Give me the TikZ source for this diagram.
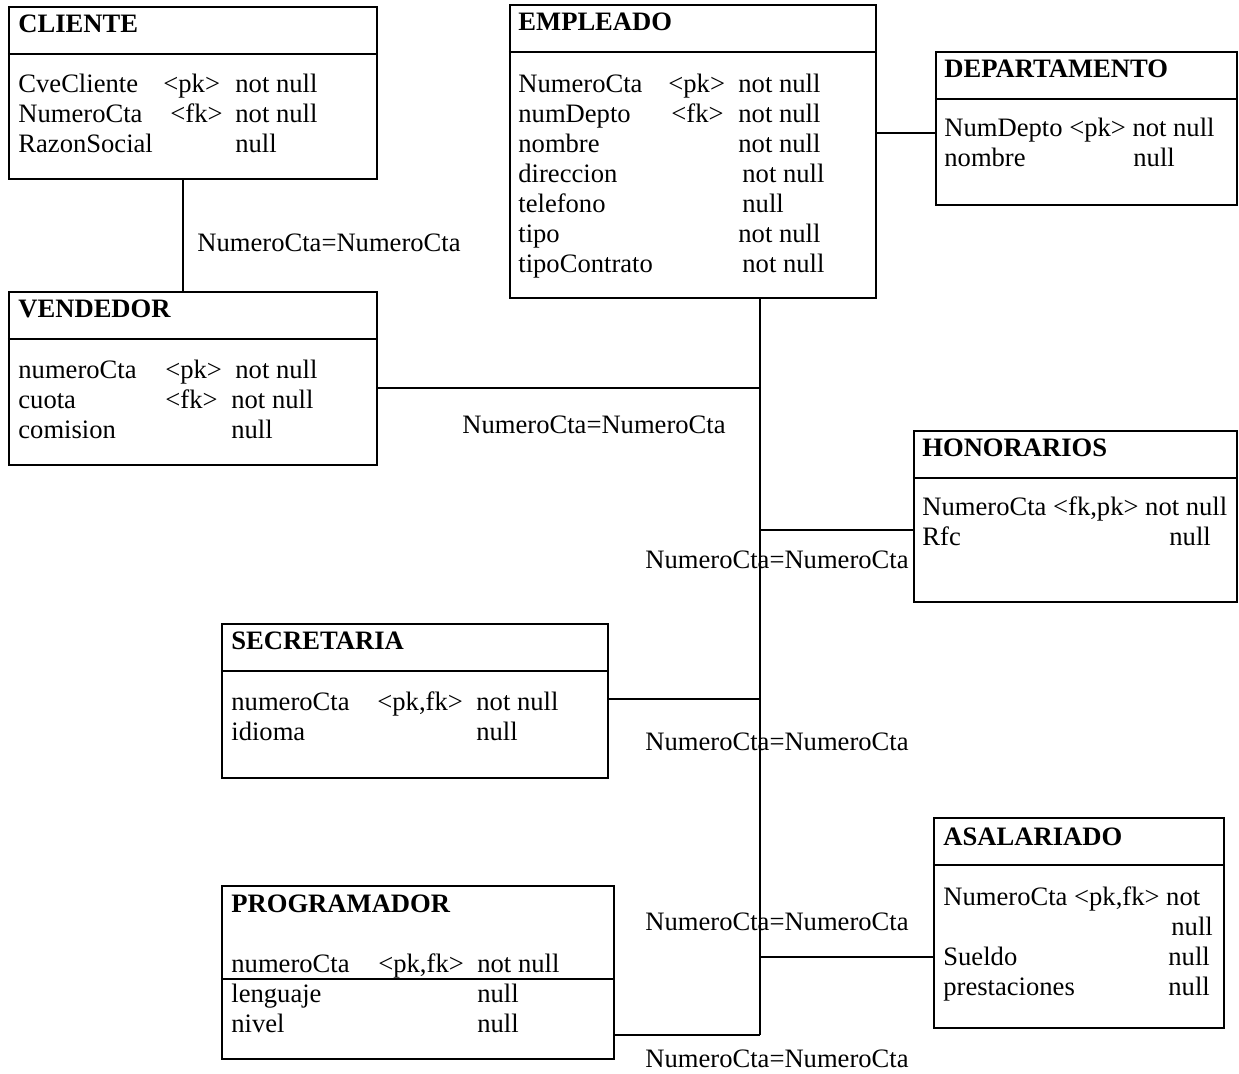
\documentclass[tikz,border=0pt]{standalone}
\usepackage{fontspec}
\setmainfont{Liberation Serif}
\usetikzlibrary{fit}
\setlength{\tabcolsep}{0pt}

\begin{document}
\begin{tikzpicture}[x=0.5pt, y=-0.5pt,
  every node/.style={font=\fontsize{13.3}{15}\selectfont},
  tbox/.style={draw, line width=1.1pt, inner sep=0pt},
  ttl/.style={anchor=base west, inner sep=0pt, font=\fontsize{13.3}{15}\selectfont\bfseries},
  attr/.style={anchor=base west, inner sep=0pt},
  lbl/.style={anchor=base west, inner sep=0pt},
  link/.style={line width=1pt}]
\useasboundingbox (0,0) rectangle (1239,1074);
\node[tbox, fit={(9,7) (377,179)}] (cli) {};
\node[tbox, fit={(510,5) (876,298)}] (emp) {};
\node[tbox, fit={(936,52) (1237,205)}] (dep) {};
\node[tbox, fit={(9,292) (377,465)}] (ven) {};
\node[tbox, fit={(914,431) (1237,602)}] (hon) {};
\node[tbox, fit={(222,624) (608,778)}] (sec) {};
\node[tbox, fit={(934,818) (1224,1028)}] (asa) {};
\node[tbox, fit={(222,886) (614,1059)}] (pro) {};
\foreach \t in {cli,emp,dep,ven,hon,sec,asa}
  \draw[tbox] ([yshift=-24pt]\t.north west) -- ([yshift=-24pt]\t.north east);
\draw[tbox] ([yshift=-47pt]pro.north west) -- ([yshift=-47pt]pro.north east);
\node[ttl] (cli-t) at (18,33) {CLIENTE};
\node[attr] (cli-a) at (18,93) {\begin{tabular}[t]{@{}p{72.5pt}p{36pt}l@{}}
  CveCliente & <pk> & not null\\ NumeroCta & \hspace{3.5pt}<fk> & not null\\ RazonSocial & & null\end{tabular}};
\node[ttl] (emp-t) at (518,31) {EMPLEADO};
\node[attr] (emp-a) at (518,93) {\begin{tabular}[t]{@{}p{75pt}p{35pt}l@{}}
  NumeroCta & <pk> & not null\\ numDepto & \hspace{1.5pt}<fk> & not null\\ nombre & & not null\\
  direccion & & \hspace{2pt}not null\\ telefono & & \hspace{2pt}null\\ tipo & & not null\\ tipoContrato & & \hspace{2pt}not null\end{tabular}};
\node[ttl] (dep-t) at (944,78) {DEPARTAMENTO};
\node[attr] (dep-a) at (944,137) {\begin{tabular}[t]{@{}p{94.5pt}l@{}}
  \multicolumn{2}{@{}l@{}}{NumDepto <pk> not null}\\ nombre & null\end{tabular}};
\node[ttl] (ven-t) at (18,318) {VENDEDOR};
\node[attr] (ven-a) at (18,379) {\begin{tabular}[t]{@{}p{73.5pt}p{33pt}l@{}}
  numeroCta & <pk> & \hspace{2pt}not null\\ cuota & <fk> & not null\\ comision & & null\end{tabular}};
\node[ttl] (hon-t) at (922,457) {HONORARIOS};
\node[attr] (hon-a) at (922,516) {\begin{tabular}[t]{@{}p{123.5pt}l@{}}
  \multicolumn{2}{@{}l@{}}{NumeroCta <fk,pk> not null}\\ Rfc & null\end{tabular}};
\node[ttl] (sec-t) at (231,650) {SECRETARIA};
\node[attr] (sec-a) at (231,711) {\begin{tabular}[t]{@{}p{73pt}p{49.5pt}l@{}}
  numeroCta & <pk,fk> & not null\\ idioma & & null\end{tabular}};
\node[ttl] (asa-t) at (943,846) {ASALARIADO};
\node[attr] (asa-a) at (943,906) {\begin{tabular}[t]{@{}p{112.5pt}l@{}}
  \multicolumn{2}{@{}l@{}}{NumeroCta <pk,fk> not}\\ & \hspace{1.5pt}null\\ Sueldo & null\\ prestaciones & null\end{tabular}};
\node[ttl] (pro-t) at (231,913) {PROGRAMADOR};
\node[attr] (pro-a) at (231,973) {\begin{tabular}[t]{@{}p{73.5pt}p{49.5pt}l@{}}
  numeroCta & <pk,fk> & not null\\ lenguaje & & null\\ nivel & & null\end{tabular}};
\coordinate (b-cli) at (183,230);
\coordinate (b-dep) at (905,133);
\coordinate (b-ven) at (760,388);
\coordinate (b-hon) at (760,530);
\coordinate (b-sec) at (760,699);
\coordinate (b-asa) at (760,957);
\coordinate (b-pro) at (760,1035);
\draw[link] (cli.south -| b-cli) -- (ven.north -| b-cli);
\draw[link] (emp.east |- b-dep) -- (dep.west |- b-dep);
\draw[link] (emp.south -| b-pro) -- (b-pro);
\draw[link] (ven.east |- b-ven) -- (b-ven);
\draw[link] (b-hon) -- (hon.west |- b-hon);
\draw[link] (sec.east |- b-sec) -- (b-sec);
\draw[link] (b-asa) -- (asa.west |- b-asa);
\draw[link] (pro.east |- b-pro) -- (b-pro);
\node[lbl] (l-cli) at (197,252) {NumeroCta=NumeroCta};
\node[lbl] (l-ven) at (462,434) {NumeroCta=NumeroCta};
\node[lbl] (l-hon) at (645,569) {NumeroCta=NumeroCta};
\node[lbl] (l-sec) at (645,751) {NumeroCta=NumeroCta};
\node[lbl] (l-asa) at (645,931) {NumeroCta=NumeroCta};
\node[lbl] (l-pro) at (645,1068) {NumeroCta=NumeroCta};
\end{tikzpicture}
\end{document}
